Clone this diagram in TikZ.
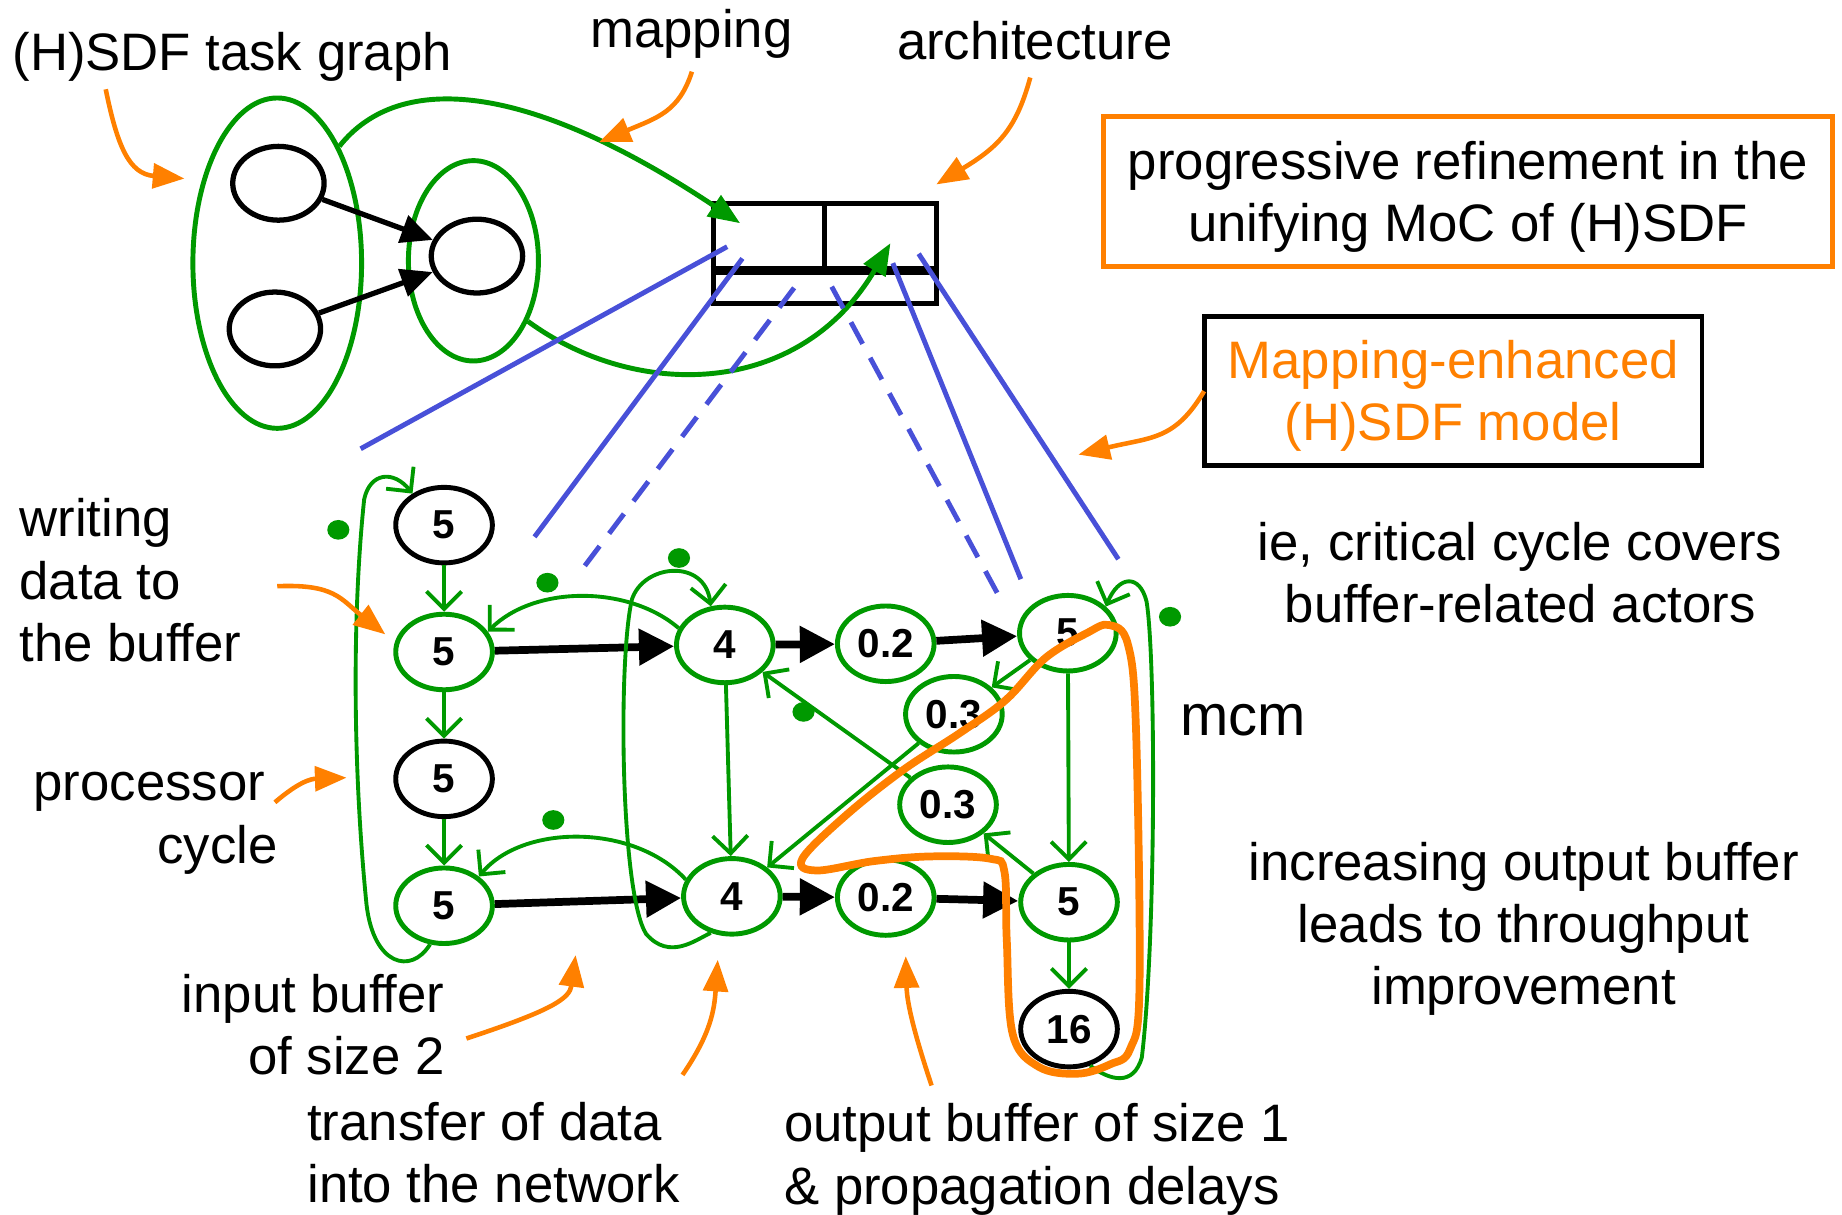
\documentclass[tikz,border=0pt]{standalone}
\usepackage{fontspec}
\setmainfont{Liberation Sans}
\usepackage{tikz}
\usetikzlibrary{arrows.meta,shapes.geometric}
\usepackage{xcolor}
\definecolor{sdfgreen}{RGB}{0,153,0}
\definecolor{sdforange}{RGB}{255,128,0}
\definecolor{sdfblue}{RGB}{72,80,216}

\begin{document}
\begin{tikzpicture}[
  x=0.11747mm, y=-0.11747mm,
  actor/.style={ellipse, draw=sdfgreen, line width=1.4pt, minimum width=27.5pt, minimum height=21.5pt, inner sep=1pt, font=\fontsize{11.5}{13}\selectfont\bfseries},
  plain/.style={actor, draw=black, line width=1.4pt},
  task/.style={ellipse, draw=black, line width=1.5pt, minimum width=26pt, minimum height=21pt},
  group/.style={ellipse, draw=sdfgreen, line width=1.4pt},
  token/.style={ellipse, fill=sdfgreen, minimum width=6.3pt, minimum height=5.6pt},
  flow/.style={draw=sdfgreen, line width=1.1pt, -{Straight Barb[length=5pt,width=10pt]}},
  data/.style={line width=2.2pt, -{Triangle[length=10pt,width=10pt]}},
  bind/.style={draw=sdfgreen, line width=1.4pt, -{Triangle[length=9pt,width=7pt]}},
  note/.style={draw=sdforange, line width=1.3pt, -{Triangle[length=9pt,width=7pt]}},
  map/.style={draw=sdfblue, line width=1.4pt},
  critical/.style={draw=sdforange, line width=2.2pt}
  ]
  \tikzstyle{every node}=[font=\fontsize{15}{17.7}\selectfont, inner sep=0pt]
  \useasboundingbox (0,0) rectangle (1568,1034);

  % labels
  \node[anchor=base west] (tglabel) at (10,60) {(H)SDF task graph};
  \node[anchor=base west] (maplabel) at (502,40) {mapping};
  \node[anchor=base west] (archlabel) at (763,51) {architecture};
  \node[draw=sdforange, line width=1.4pt, align=center, minimum width=207.5pt, minimum height=42.7pt] (refine) at (1249.5,163) {\rule{0pt}{14pt}progressive refinement in the\\unifying MoC of (H)SDF};
  \node[draw, line width=1.4pt, align=center, text=sdforange, minimum width=141.6pt, minimum height=42.4pt] (model) at (1237,332.5) {\rule{0pt}{14pt}Mapping-enhanced\\(H)SDF model};
  \node[anchor=base, align=center] (cyclenote) at (1294,530) {ie, critical cycle covers\\buffer-related actors};
  \node[anchor=base west, font=\fontsize{16.5}{18}\selectfont] (mcm) at (1004,626) {mcm};
  \node[anchor=base, align=center] (gain) at (1297,855) {increasing output buffer\\leads to throughput\\improvement};
  \node[anchor=base west, align=left] (writing) at (16,563) {writing\\data to\\the buffer};
  \node[anchor=base west] (proclabel) at (28,681) {processor};
  \node[anchor=base east] (cyclelabel) at (237,735) {cycle};
  \node[anchor=base east, align=right] (inbuf) at (379,915) {input buffer\\of size 2};
  \node[anchor=base west, align=left] (transfer) at (261,1024) {transfer of data\\into the network};
  \node[anchor=base west, align=left] (outbuf) at (667,1025) {output buffer of size 1\\\& propagation delays};

  % task graph
  \node[group, minimum width=48pt, minimum height=94pt] (tgbig) at (236,224) {};
  \node[group, minimum width=37pt, minimum height=57pt] (tgsmall) at (403,222) {};
  \node[task] (ta) at (237,156) {};
  \node[task] (tb) at (234,280) {};
  \node[task] (tc) at (406,218) {};
  \draw[line width=1.5pt, -{Triangle[length=9pt,width=8pt]}] (ta) -- (tc);
  \draw[line width=1.5pt, -{Triangle[length=9pt,width=8pt]}] (tb) -- (tc);

  % architecture
  \node[draw, line width=1.4pt, minimum width=31.7pt, minimum height=19.7pt] (pe1) at (654.5,202.5) {};
  \node[draw, line width=1.4pt, minimum width=31.7pt, minimum height=19.7pt] (pe2) at (749.5,202.5) {};
  \node[draw, line width=1.4pt, minimum width=63.5pt, minimum height=8.7pt] (noc) at (702,245) {};
  \draw[line width=2.2pt] (noc.north west) -- (noc.north east);
  \coordinate (pe1in) at (630,190);
  \coordinate (pe2in) at (758,207);
  \draw[bind] (tgbig.62) .. controls (340,60) and (450,70) .. (pe1in);
  \draw[bind] (tgsmall.-48) .. controls (540,340) and (680,340) .. (pe2in);

  % mapping lines
  \coordinate (ma) at (619,210);  \coordinate (mA) at (307,382);
  \coordinate (mb) at (632,220);  \coordinate (mB) at (455,457);
  \coordinate (mc) at (676,245);  \coordinate (mC) at (490,492);
  \coordinate (md) at (708,244);  \coordinate (mD) at (849,505);
  \coordinate (me) at (760,224);  \coordinate (mE) at (869,493);
  \coordinate (mf) at (782,216);  \coordinate (mF) at (952,476);
  \draw[map] (ma) -- (mA);
  \draw[map] (mb) -- (mB);
  \draw[map, dash pattern=on 7pt off 4.5pt] (mc) -- (mC);
  \draw[map, dash pattern=on 7pt off 4.5pt] (md) -- (mD);
  \draw[map] (me) -- (mE);
  \draw[map] (mf) -- (mF);

  % mapped (H)SDF graph
  \node[plain] (a1) at (378,447) {5};
  \node[actor] (a2) at (378,555) {5};
  \node[plain] (a3) at (378,663) {5};
  \node[actor] (a4) at (378,771) {5};
  \node[actor] (tx1) at (617,549) {4};
  \node[actor] (tx2) at (623,763) {4};
  \node[actor] (pd1) at (754,548) {0.2};
  \node[actor] (pd2) at (754,764) {0.2};
  \node[actor] (rx1) at (909,539) {5};
  \node[actor] (rx2) at (910,768) {5};
  \node[actor] (bf1) at (812,608) {0.3};
  \node[actor] (bf2) at (807,685) {0.3};
  \node[plain] (snk) at (910,876) {16};

  \draw[flow] (a1) -- (a2);
  \draw[flow] (a2) -- (a3);
  \draw[flow] (a3) -- (a4);
  \draw[data] (a2) -- (tx1);
  \draw[data] (tx1) -- (pd1);
  \draw[data] (pd1) -- (rx1);
  \draw[data] (a4) -- (tx2);
  \draw[data] (tx2) -- (pd2);
  \draw[data] (pd2) -- (rx2);
  \draw[flow] (tx1) -- (tx2);
  \draw[flow] (rx1) -- (rx2);
  \draw[flow] (rx2) -- (snk);
  \draw[flow] (rx1) -- (bf1);
  \draw[flow] (bf1) -- (tx2);
  \draw[flow] (bf2) -- (tx1);
  \draw[flow] (rx2) -- (bf2);
  \draw[flow] (tx1.160) .. controls (535,498) and (455,498) .. (a2.25);
  \draw[flow] (tx2.160) .. controls (540,701) and (445,701) .. (a4.40);
  \draw[flow] (a4.250) .. controls (350,830) and (318,822) .. (312,770)
    .. controls (300,650) and (300,520) .. (310,425)
    .. controls (315,402) and (335,400) .. (a1.135);
  \draw[flow] (tx2.240) .. controls (592,800) and (570,818) .. (550,795)
    .. controls (528,760) and (526,560) .. (538,510)
    .. controls (548,480) and (600,475) .. (tx1.110);
  \draw[flow] (snk.300) .. controls (945,920) and (965,925) .. (972,900)
    .. controls (984,800) and (984,560) .. (976,512)
    .. controls (970,488) and (952,490) .. (rx1.35);

  % tokens
  \node[token] (k1) at (288,451) {};
  \node[token] (k2) at (466,496) {};
  \node[token] (k3) at (578,475) {};
  \node[token] (k4) at (684,606) {};
  \node[token] (k5) at (471,698) {};
  \node[token] (k6) at (996,525) {};

  % critical cycle
  \draw[critical] plot[smooth cycle, tension=0.6] coordinates {(944,532) (960,548) (967,620) (970,840) (962,893) (945,906) (917,914) (884,908) (862,880) (857,800) (855,742) (843,731) (793,729) (744,733) (695,741) (683,731) (719,695) (768,656) (817,624) (856,596) (890,560) (925,539)};

  % pointers
  \coordinate (tgtail) at (90,76);     \coordinate (tghead) at (157,152);
  \coordinate (maptail) at (589,61);   \coordinate (maphead) at (510,121);
  \coordinate (archtail) at (877,66);  \coordinate (archhead) at (797,157);
  \coordinate (modeltail) at (1025,333); \coordinate (modelhead) at (918,387);
  \coordinate (wrtail) at (236,499);   \coordinate (wrhead) at (328,540);
  \coordinate (proctail) at (234,683); \coordinate (prochead) at (295,662);
  \coordinate (intail) at (397,884);   \coordinate (inhead) at (490,813);
  \coordinate (trtail) at (581,915);   \coordinate (trhead) at (611,817);
  \coordinate (outtail) at (793,924);  \coordinate (outhead) at (771,814);
  \draw[note] (tgtail) .. controls (100,125) and (110,148) .. (tghead);
  \draw[note] (maptail) .. controls (578,95) and (560,100) .. (maphead);
  \draw[note] (archtail) .. controls (865,110) and (850,125) .. (archhead);
  \draw[note] (modeltail) .. controls (1000,375) and (980,372) .. (modelhead);
  \draw[note] (wrtail) .. controls (285,497) and (290,510) .. (wrhead);
  \draw[note] (proctail) .. controls (255,665) and (265,663) .. (prochead);
  \draw[note] (intail) .. controls (470,860) and (485,850) .. (inhead);
  \draw[note] (trtail) .. controls (605,880) and (608,860) .. (trhead);
  \draw[note] (outtail) .. controls (775,870) and (772,850) .. (outhead);
\end{tikzpicture}
\end{document}
